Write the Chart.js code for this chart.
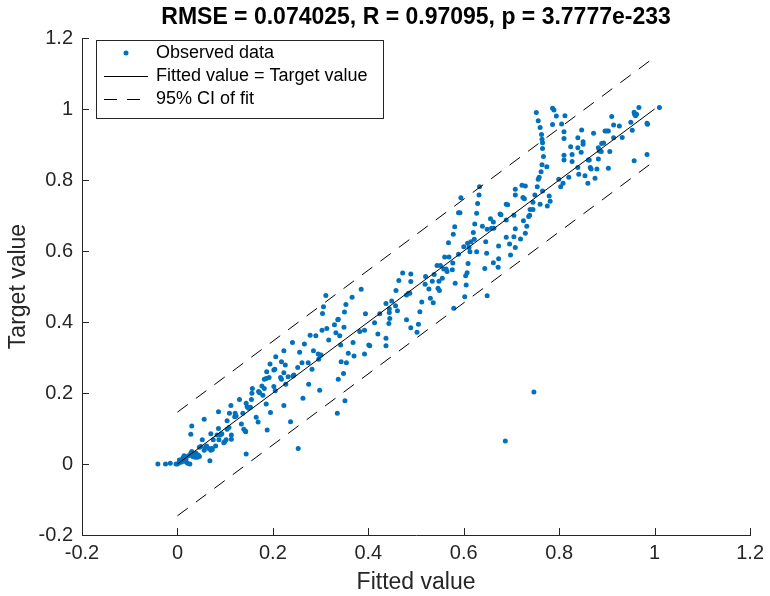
<!DOCTYPE html>
<html>
<head>
<meta charset="utf-8">
<script src="https://cdn.jsdelivr.net/npm/chart.js@4.4.1/dist/chart.umd.min.js"></script>
<style>
  body { margin: 0; background: #fff; }
  #wrap { width: 770px; height: 596px; }
</style>
</head>
<body>
<div id="wrap"><canvas id="fitChart" width="770" height="596"></canvas></div>
<script>
// observed points (fitted value, target value)
const fittedX = [
  -0.041, -0.025, -0.015, -0.003, 0.000, 0.006, 0.008, 0.011, 0.013, 0.017, 0.018, 0.021, 0.023, 0.026, 0.028,
  0.030, 0.032, 0.039, 0.042, 0.044, 0.046, 0.049, 0.052, 0.056, 0.059, 0.061, 0.066, 0.068, 0.070, 0.072,
  0.073, 0.075, 0.070, 0.080, 0.083, 0.086, 0.087, 0.090, 0.093, 0.097, 0.099, 0.102, 0.104, 0.108, 0.104,
  0.109, 0.112, 0.113, 0.113, 0.120, 0.121, 0.123, 0.130, 0.134, 0.137, 0.139, 0.142, 0.143, 0.144, 0.144,
  0.146, 0.149, 0.153, 0.155, 0.156, 0.157, 0.028, 0.030, 0.056, 0.086, 0.046, 0.037, 0.035, 0.014, 0.010,
  0.004,
  0.165, 0.169, 0.170, 0.172, 0.177, 0.179, 0.182, 0.182, 0.186, 0.187, 0.186, 0.188, 0.192, 0.194, 0.195,
  0.202, 0.204, 0.202, 0.206, 0.205, 0.216, 0.218, 0.218, 0.223, 0.223, 0.223, 0.226, 0.227, 0.232, 0.237,
  0.241, 0.242, 0.244, 0.252, 0.256, 0.261, 0.263, 0.266, 0.274, 0.275, 0.278, 0.282, 0.285, 0.290, 0.295,
  0.296, 0.298, 0.299, 0.301, 0.303, 0.304, 0.306, 0.311, 0.313, 0.317, 0.329, 0.332, 0.335, 0.336, 0.337,
  0.337, 0.340, 0.342, 0.343, 0.348, 0.349, 0.350, 0.353, 0.354, 0.351, 0.358, 0.366, 0.368, 0.370, 0.253,
  0.385, 0.394, 0.382, 0.392, 0.401, 0.403, 0.392, 0.413, 0.420, 0.424, 0.437, 0.437, 0.437, 0.444, 0.444,
  0.445, 0.443, 0.449, 0.457, 0.458, 0.461, 0.464, 0.472, 0.480, 0.480, 0.484, 0.487, 0.489, 0.489, 0.489,
  0.502, 0.505, 0.508, 0.512, 0.519, 0.520, 0.527, 0.530, 0.534, 0.536, 0.538, 0.544, 0.546, 0.548, 0.549,
  0.551, 0.555, 0.558, 0.560, 0.563, 0.565, 0.569, 0.568, 0.576, 0.577, 0.578, 0.581, 0.582, 0.579, 0.589,
  0.592, 0.589, 0.594,
  0.600, 0.602, 0.605, 0.604, 0.607, 0.609, 0.608, 0.611, 0.613, 0.615, 0.620, 0.622, 0.623, 0.627, 0.627,
  0.629, 0.632, 0.633, 0.639, 0.644, 0.646, 0.648, 0.649, 0.656, 0.658, 0.662, 0.662, 0.663, 0.672, 0.673,
  0.673, 0.676, 0.678, 0.689, 0.689, 0.689, 0.692, 0.698, 0.696, 0.705, 0.705, 0.708, 0.708, 0.708, 0.708,
  0.719, 0.722, 0.724, 0.727, 0.725, 0.729, 0.729, 0.732, 0.736, 0.738, 0.739, 0.745, 0.745, 0.749, 0.754,
  0.758, 0.756, 0.760, 0.762, 0.764, 0.765, 0.767, 0.765, 0.765, 0.764, 0.763, 0.760, 0.756, 0.774, 0.775,
  0.779, 0.781, 0.786, 0.799, 0.803, 0.805, 0.808, 0.810, 0.810, 0.810, 0.810, 0.649, 0.752, 0.786, 0.789,
  0.794,
  0.812, 0.820, 0.824, 0.827, 0.827, 0.839, 0.839, 0.841, 0.839, 0.846, 0.847, 0.850, 0.850, 0.854, 0.860,
  0.861, 0.863, 0.865, 0.867, 0.872, 0.875, 0.879, 0.882, 0.882, 0.884, 0.888, 0.889, 0.893, 0.896, 0.900,
  0.903, 0.903, 0.906, 0.910, 0.914, 0.914, 0.926, 0.932, 0.950, 0.953, 0.957, 0.958, 0.960, 0.962, 0.967,
  0.984, 0.985, 0.984, 0.957, 1.010,
  0.687, 0.747
];
const targetY = [
  0.000, 0.000, 0.002, 0.000, 0.000, 0.004, 0.011, 0.016, 0.019, 0.007, 0.013, 0.002, 0.023, 0.000, 0.030,
  0.035, 0.021, 0.030, 0.019, 0.025, 0.047, 0.049, 0.068, 0.039, 0.047, 0.051, 0.044, 0.009, 0.039, 0.044,
  0.041, 0.068, 0.085, 0.051, 0.082, 0.100, 0.068, 0.082, 0.085, 0.060, 0.063, 0.068, 0.098, 0.103, 0.122,
  0.143, 0.165, 0.082, 0.070, 0.133, 0.143, 0.135, 0.182, 0.113, 0.143, 0.098, 0.094, 0.091, 0.028, 0.171,
  0.161, 0.157, 0.160, 0.182, 0.199, 0.213, 0.084, 0.107, 0.126, 0.147, 0.021, 0.019, 0.025, 0.023, 0.007,
  0.011,
  0.132, 0.118, 0.204, 0.201, 0.220, 0.194, 0.213, 0.239, 0.241, 0.260, 0.169, 0.096, 0.244, 0.282, 0.145,
  0.265, 0.267, 0.218, 0.302, 0.206, 0.244, 0.288, 0.239, 0.319, 0.257, 0.165, 0.279, 0.225, 0.246, 0.119,
  0.342, 0.248, 0.251, 0.272, 0.315, 0.285, 0.185, 0.338, 0.285, 0.225, 0.363, 0.267, 0.319, 0.361, 0.310,
  0.295, 0.208, 0.306, 0.307, 0.377, 0.424, 0.443, 0.475, 0.382, 0.349, 0.392, 0.370, 0.143, 0.406, 0.408,
  0.239, 0.361, 0.335, 0.288, 0.255, 0.385, 0.428, 0.449, 0.285, 0.178, 0.312, 0.470, 0.342, 0.304, 0.044,
  0.492, 0.423, 0.373, 0.377, 0.335, 0.333, 0.310, 0.398, 0.366, 0.423, 0.452, 0.354, 0.333, 0.437, 0.427,
  0.410, 0.396, 0.459, 0.446, 0.489, 0.432, 0.517, 0.538, 0.406, 0.476, 0.481, 0.481, 0.535, 0.514, 0.384,
  0.371, 0.394, 0.429, 0.456, 0.506, 0.528, 0.493, 0.467, 0.515, 0.454, 0.534, 0.559, 0.495, 0.515, 0.489,
  0.559, 0.523, 0.549, 0.583, 0.549, 0.542, 0.583, 0.623, 0.547, 0.566, 0.647, 0.668, 0.509, 0.439, 0.708,
  0.708, 0.591, 0.750,
  0.612, 0.471, 0.504, 0.530, 0.539, 0.565, 0.622, 0.610, 0.598, 0.626, 0.652, 0.633, 0.676, 0.598, 0.706,
  0.734, 0.758, 0.781, 0.670, 0.551, 0.626, 0.594, 0.661, 0.691, 0.664, 0.682, 0.567, 0.664, 0.554, 0.614,
  0.578, 0.704, 0.702, 0.687, 0.639, 0.732, 0.730, 0.589, 0.620, 0.640, 0.701, 0.610, 0.774, 0.758, 0.663,
  0.634, 0.785, 0.751, 0.747, 0.685, 0.783, 0.650, 0.670, 0.697, 0.701, 0.717, 0.717, 0.737, 0.758, 0.781,
  0.808, 0.802, 0.732, 0.823, 0.843, 0.769, 0.866, 0.889, 0.905, 0.915, 0.928, 0.948, 0.967, 0.837, 0.727,
  0.755, 0.740, 0.956, 0.802, 0.781, 0.958, 0.791, 0.936, 0.917, 0.870, 0.856, 0.474, 0.990, 1.002, 0.997,
  0.980,
  0.981, 0.808, 0.894, 0.872, 0.852, 0.919, 0.891, 0.816, 0.835, 0.878, 0.941, 0.908, 0.901, 0.812, 0.791,
  0.856, 0.856, 0.835, 0.831, 0.932, 0.805, 0.831, 0.891, 0.859, 0.882, 0.880, 0.903, 0.904, 0.938, 0.938,
  0.938, 0.833, 0.880, 0.979, 0.919, 0.955, 0.952, 0.920, 0.963, 0.940, 0.991, 0.985, 0.981, 0.985, 1.004,
  0.960, 0.957, 0.872, 0.854, 1.004,
  0.065, 0.203
];

// reference line and 95% CI of fit
const lineX = [0, 1];
const fitY = [0, 1];
const ciUpperY = [0.146, 1.146];
const ciLowerY = [-0.146, 0.854];

const xTickValues = [-0.2, 0, 0.2, 0.4, 0.6, 0.8, 1, 1.2];
const xTickLabels = ['-0.2', '0', '0.2', '0.4', '0.6', '0.8', '1', '1.2'];
const yTickValues = [-0.2, 0, 0.2, 0.4, 0.6, 0.8, 1, 1.2];
const yTickLabels = ['-0.2', '0', '0.2', '0.4', '0.6', '0.8', '1', '1.2'];

const titleText = 'RMSE = 0.074025, R = 0.97095, p = 3.7777e-233';
const legendLabels = ['Observed data', 'Fitted value = Target value', '95% CI of fit'];

const FONT = "'Liberation Sans', Arial, sans-serif";
const AXIS_COLOR = '#262626';
const DOT_COLOR = '#0072BD';
const DASH = [13, 10];

function pairs(xs, ys) {
  return xs.map((x, i) => ({ x: x, y: ys[i] }));
}

// matlab look: inward ticks, title and boxed legend inside the axes
const matlabDecor = {
  id: 'matlabDecor',
  afterDraw(chart) {
    const ctx = chart.ctx;
    const area = chart.chartArea;
    const xs = chart.scales.x;
    const ys = chart.scales.y;
    ctx.save();
    ctx.strokeStyle = AXIS_COLOR;
    ctx.lineWidth = 1;
    ctx.beginPath();
    xTickValues.forEach(v => {
      const px = Math.round(xs.getPixelForValue(v)) + 0.5;
      ctx.moveTo(px, area.bottom);
      ctx.lineTo(px, area.bottom - 7);
    });
    yTickValues.forEach(v => {
      const py = Math.round(ys.getPixelForValue(v)) + 0.5;
      ctx.moveTo(area.left, py);
      ctx.lineTo(area.left + 7, py);
    });
    ctx.stroke();

    // title
    ctx.fillStyle = '#000';
    ctx.font = 'bold 23px ' + FONT;
    ctx.textAlign = 'center';
    ctx.textBaseline = 'middle';
    ctx.fillText(titleText, (area.left + area.right) / 2, 18);

    // legend
    const lx = 96.5, ly = 40.5, lw = 287, lh = 78;
    ctx.fillStyle = '#fff';
    ctx.fillRect(lx, ly, lw, lh);
    ctx.strokeStyle = AXIS_COLOR;
    ctx.strokeRect(lx, ly, lw, lh);
    const rows = [53, 76, 99];
    ctx.fillStyle = DOT_COLOR;
    ctx.beginPath();
    ctx.arc(126, rows[0], 2.5, 0, Math.PI * 2);
    ctx.fill();
    ctx.strokeStyle = '#000';
    ctx.beginPath();
    ctx.moveTo(104, rows[1] + 0.5);
    ctx.lineTo(148, rows[1] + 0.5);
    ctx.stroke();
    ctx.setLineDash(DASH);
    ctx.beginPath();
    ctx.moveTo(104, rows[2] + 0.5);
    ctx.lineTo(148, rows[2] + 0.5);
    ctx.stroke();
    ctx.setLineDash([]);
    ctx.fillStyle = '#000';
    ctx.font = '18px ' + FONT;
    ctx.textAlign = 'left';
    legendLabels.forEach((t, i) => ctx.fillText(t, 156, rows[i]));
    ctx.restore();
  }
};

new Chart(document.getElementById('fitChart'), {
  type: 'scatter',
  data: {
    datasets: [
      {
        label: legendLabels[0],
        data: pairs(fittedX, targetY),
        backgroundColor: DOT_COLOR,
        borderWidth: 0,
        pointRadius: 2.5,
        order: 2
      },
      {
        label: legendLabels[1],
        data: pairs(lineX, fitY),
        showLine: true,
        borderColor: '#000',
        borderWidth: 1,
        pointRadius: 0,
        order: 1
      },
      {
        label: legendLabels[2],
        data: pairs(lineX, ciUpperY),
        showLine: true,
        borderColor: '#000',
        borderWidth: 1,
        borderDash: DASH,
        pointRadius: 0,
        order: 1
      },
      {
        label: legendLabels[2],
        data: pairs(lineX, ciLowerY),
        showLine: true,
        borderColor: '#000',
        borderWidth: 1,
        borderDash: DASH,
        pointRadius: 0,
        order: 1
      }
    ]
  },
  options: {
    responsive: false,
    animation: false,
    devicePixelRatio: 1,
    events: [],
    layout: { padding: { top: 38, right: 13, left: 0, bottom: 0 } },
    plugins: {
      legend: { display: false },
      title: { display: false },
      tooltip: { enabled: false }
    },
    scales: {
      x: {
        type: 'linear',
        min: -0.2,
        max: 1.2,
        afterBuildTicks: s => { s.ticks = xTickValues.map(v => ({ value: v })); },
        afterFit: s => { s.height = 61; },
        grid: { display: false, drawTicks: false },
        border: { display: true, color: AXIS_COLOR, width: 1 },
        ticks: {
          padding: 6,
          color: AXIS_COLOR,
          font: { family: FONT, size: 20 },
          maxRotation: 0,
          callback: (v, i) => xTickLabels[i]
        },
        title: {
          display: true,
          text: 'Fitted value',
          color: AXIS_COLOR,
          font: { family: FONT, size: 23, lineHeight: 1.2 },
          padding: { top: 0, bottom: 0 }
        }
      },
      y: {
        type: 'linear',
        min: -0.2,
        max: 1.2,
        afterBuildTicks: s => { s.ticks = yTickValues.map(v => ({ value: v })); },
        afterFit: s => { s.width = 82; },
        grid: { display: false, drawTicks: false },
        border: { display: true, color: AXIS_COLOR, width: 1 },
        ticks: {
          padding: 9,
          color: AXIS_COLOR,
          font: { family: FONT, size: 20 },
          callback: (v, i) => yTickLabels[i]
        },
        title: {
          display: true,
          text: 'Target value',
          color: AXIS_COLOR,
          font: { family: FONT, size: 23, lineHeight: 1.2 },
          padding: { top: 5, bottom: 0 }
        }
      }
    }
  },
  plugins: [matlabDecor]
});
</script>
</body>
</html>
